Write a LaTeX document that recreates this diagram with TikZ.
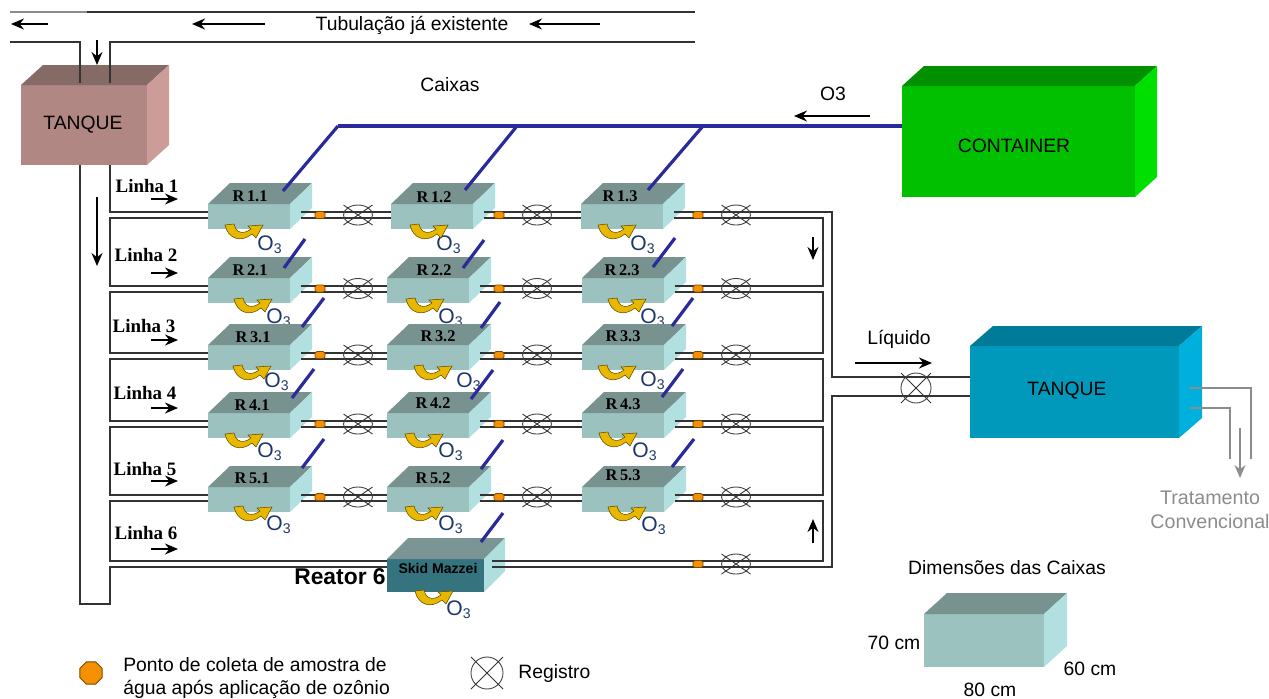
\documentclass[tikz,border=0pt]{standalone}
\usepackage{fontspec}
\setmainfont{Liberation Sans}
\newfontfamily\serifa{Liberation Serif}
\usepackage{xcolor}
\usetikzlibrary{arrows.meta,shapes.geometric,calc}
\definecolor{reatorF}{RGB}{156,194,192}
\definecolor{reatorT}{RGB}{120,146,144}
\definecolor{reatorS}{RGB}{178,224,224}
\definecolor{skidF}{RGB}{53,115,127}
\definecolor{skidT}{RGB}{122,149,147}
\definecolor{skidS}{RGB}{174,222,221}
\definecolor{tanqueF}{RGB}{176,135,130}
\definecolor{tanqueT}{RGB}{134,106,102}
\definecolor{tanqueS}{RGB}{204,156,152}
\definecolor{tanquebF}{RGB}{0,153,187}
\definecolor{tanquebT}{RGB}{0,122,153}
\definecolor{tanquebS}{RGB}{0,176,220}
\definecolor{contF}{RGB}{0,192,0}
\definecolor{contT}{RGB}{0,144,0}
\definecolor{contS}{RGB}{0,224,0}
\definecolor{ozblue}{RGB}{42,42,155}
\definecolor{ozgold}{RGB}{232,184,0}
\definecolor{ozorange}{RGB}{245,145,0}
\definecolor{ozlabel}{RGB}{30,55,105}
\definecolor{cinzaT}{RGB}{140,140,140}
\def\ux{0.02cm}
\tikzset{
  tubo/.style={line width=0.8pt, draw=black!80},
  tubocinza/.style={line width=0.7pt, draw=cinzaT},
  ozline/.style={line width=3.2*\ux, draw=ozblue},
  seta/.style={-{Stealth[length=13*\ux, width=11*\ux]}, line width=1.6*\ux, black},
  setacinza/.style={-{Stealth[length=13*\ux, width=11*\ux]}, line width=1.6*\ux, cinzaT},
  valvula/.style={ellipse, draw=black!75, line width=0.5pt, inner sep=0pt},
  valvulax/.style={line width=0.5pt, draw=black!80},
  coleta/.style={rectangle, rounded corners=1pt, draw=black!50!ozorange, line width=0.4pt, fill=ozorange,
                 minimum width=10*\ux, minimum height=7*\ux, inner sep=0pt},
  rotulo/.style={font=\fontsize{11}{13}\selectfont, align=center, inner sep=0pt},
  linha/.style={font=\fontsize{10.8}{12}\serifa\bfseries, inner sep=0pt},
  rnome/.style={font=\fontsize{9.3}{10}\serifa\bfseries, inner sep=0pt},
  otres/.style={font=\fontsize{12}{13}\selectfont, text=ozlabel, inner sep=0pt},
  curva/.pic={
    \filldraw[fill=ozgold, draw=black!60!ozgold, line width=0.3pt] (0,1) .. controls (3,15) and (16,19) .. (27,10)
      -- (31,14) -- (38,1) -- (23,2) -- (26,5) .. controls (18,11) and (11,9) .. (9,0) -- cycle;
  },
}
% caixa: nome, x, y do topo de tras, largura, altura, dx, dy, prefixo da cor
\newcommand{\caixa}[8]{%
  \node[anchor=north west, inner sep=0pt, outer sep=0pt, fill=#8F,
        minimum width=#4*\ux, minimum height=#5*\ux] (#1) at (#2,#3+#7) {};
  \fill[#8T] (#1.north west) -- ++(#6,-#7) -- ([shift={(#6,-#7)}]#1.north east) -- (#1.north east) -- cycle;
  \fill[#8S] (#1.north east) -- ([shift={(#6,-#7)}]#1.north east) -- ([shift={(#6,-#7)}]#1.south east) -- (#1.south east) -- cycle;
}
% registro: nome, x, y, raio x, raio y
\newcommand{\registro}[5]{%
  \node[valvula, minimum width=2*#4*\ux, minimum height=2*#5*\ux] (#1) at (#2,#3) {};
  \draw[valvulax] ([shift={(-#4,-#5)}]#1.center) -- ([shift={(#4,#5)}]#1.center);
  \draw[valvulax] ([shift={(-#4,#5)}]#1.center) -- ([shift={(#4,-#5)}]#1.center);
}
\begin{document}
\begin{tikzpicture}[x=\ux, y=-\ux]
\useasboundingbox (0,0) rectangle (1269,698);

% ---- ozone labels, partly covered by the next row ----
\foreach \n/\ox/\oy in {11/270/245, 12/449/245, 13/643/245, 21/279/318, 22/451/318, 23/653/318,
                        31/277/382, 32/469/382, 33/653/381, 41/270/452, 42/451/452, 43/645/452,
                        51/279/525, 52/451/525, 53/654/526, 61/459/610}
  \node[otres] (otres\n) at (\ox,\oy) {O\textsubscript{3}};

% ---- Boxes ----
\caixa{tanquea}{21}{65}{126}{80}{22}{20}{tanque}
\caixa{tanqueb}{970}{326}{209}{92}{23}{20}{tanqueb}
\caixa{container}{902}{66}{233}{111}{22}{20}{cont}
\caixa{amostra}{924}{593}{120}{53}{23}{21}{reator}
\foreach \r/\c/\rx/\ry/\lx/\ly in {
  1/1/208/183/250/196, 1/2/391/183/434/197, 1/3/581/183/620/196,
  2/1/208/257/250/270, 2/2/387/257/434/270, 2/3/582/257/622/270,
  3/1/208/324/253/337, 3/2/387/324/438/336, 3/3/582/324/623/336,
  4/1/208/392/252/405, 4/2/387/392/433/403, 4/3/582/392/623/404,
  5/1/208/466/252/478, 5/2/387/466/433/478, 5/3/582/466/623/475}{
  \caixa{r\r\c}{\rx}{\ry}{82}{25}{22}{21}{reator}
  \node[rnome] (nome\r\c) at (\lx,\ly) {R\,\r.\c};
}
\caixa{r61}{387}{538}{97}{33}{21}{21}{skid}
\node[font=\fontsize{8}{9}\selectfont\bfseries, inner sep=0pt] (nome61) at (438,568) {Skid Mazzei};

% ---- Pipe ends ----
\foreach \n in {11,12,13,21,22,23,31,32,33,41,42,43,51,52,53}{
  \coordinate (ia\n) at ([shift={(0,-4.5)}]r\n.west);
  \coordinate (ib\n) at ([shift={(0,1.5)}]r\n.west);
  \coordinate (oa\n) at ([shift={(11,-4.5)}]r\n.east);
  \coordinate (ob\n) at ([shift={(11,1.5)}]r\n.east);
}
\coordinate (ia61) at ([shift={(0,-14.5)}]r61.west);
\coordinate (ib61) at ([shift={(0,-8.5)}]r61.west);
\coordinate (oa61) at ([shift={(8,-14.5)}]r61.east);
\coordinate (ob61) at ([shift={(8,-8.5)}]r61.east);
\coordinate (wo) at (80,0);
\coordinate (wl) at (110,0);
\coordinate (wi) at (823,0);
\coordinate (we) at (832,0);
\coordinate (fundo) at (0,604);
\coordinate (ent) at (0,83);
\coordinate (ta) at ([shift={(0,-15)}]tanqueb.west);
\coordinate (tb) at ([shift={(0,4)}]tanqueb.west);
\coordinate (tl1) at (10,12);
\coordinate (tm1) at (87,12);
\coordinate (tr1) at (695,12);
\coordinate (tl2) at (10,42);
\coordinate (tr2) at (695,42);

% ---- Pipes ----
\draw[tubocinza] (tl1) -- (tm1);
\draw[tubo] (tm1) -- (tr1);
\draw[tubo] (tl2) -- (tl2 -| wo) -- (ent -| wo);
\draw[tubo] (tr2) -- (tr2 -| wl) -- (ent -| wl);
\draw[tubo] (ia11) -- (ia11 -| wl) -- (tanquea.south -| wl);
\draw[tubo] (ib61) -- (ib61 -| wl) -- (fundo -| wl) -- (fundo -| wo) -- (tanquea.south -| wo);
\foreach \r/\s/\t in {1/2/3,2/3/3,3/4/3,4/5/3,5/6/1}{
  \draw[tubo] (ib\r1) -- (ib\r1 -| wl) -- (ia\s1 -| wl) -- (ia\s1);
  \draw[tubo] (ob\r3) -- (ob\r3 -| wi) -- (oa\s\t -| wi) -- (oa\s\t);
}
\foreach \r in {1,2,3,4,5}{
  \foreach \c/\d in {1/2,2/3}{
    \draw[tubo] (oa\r\c) -- (ia\r\d);
    \draw[tubo] (ob\r\c) -- (ib\r\d);
  }
}
\draw[tubo] (oa13) -- (oa13 -| we) -- (ta -| we) -- (ta);
\draw[tubo] (tb) -- (tb -| we) -- (ob61 -| we) -- (ob61);

% ---- Ozone lines ----
\foreach \n/\xa/\ya/\ox/\oy in {
  11/338/126/-7/-13, 12/517/126/-8/-14, 13/703/126/-15/-14,
  21/305/239/-6/-10, 22/484/240/-6/-10, 23/675/238/-11/-11,
  31/324/298/12/-18, 32/500/302/12/-17, 33/693/298/8/-19,
  41/314/369/2/-15, 42/493/370/2/-14, 43/683/369/-2/-16,
  51/324/439/12/-19, 52/503/440/12/-18, 53/694/439/8/-20,
  61/503/513/-3/-17}{
  \coordinate (oz\n) at (\xa,\ya);
  \draw[ozline] (oz\n) -- ([shift={(\ox,\oy)}]r\n.north east);
}
\draw[ozline] (oz13 -| container.west) -- (oz11);

% ---- Yellow recirculation arrows ----
\foreach \ax/\ay in {225/224, 410/224, 598/224, 234/298, 406/298, 608/298, 233/365, 414/365, 598/365,
                     225/433, 405/433, 599/432, 234/506, 405/506, 608/506, 415/590}
  \pic at (\ax,\ay) {curva};

% ---- Sampling points and valves ----
\foreach \r/\y in {1/215, 2/288.5, 3/355, 4/424, 5/497}{
  \foreach \c/\px/\vx in {1/320/358, 2/499/537, 3/698/736}{
    \node[coleta] (ponto\r\c) at (\px,\y) {};
    \registro{reg\r\c}{\vx}{\y}{14.5}{10}
  }
}
\node[coleta] (ponto63) at (698,564) {};
\registro{reg63}{736}{564}{14.5}{10}
\registro{regliq}{916}{388}{15}{15}
\registro{regleg}{487}{673}{16}{16}
\node[regular polygon, regular polygon sides=8, draw=black!50!ozorange, fill=ozorange, line width=0.5pt,
      minimum size=24*\ux, inner sep=0pt] (pontoleg) at (91,673) {};

% ---- Flow arrows ----
\foreach \n/\xa/\ya/\xb/\yb in {
  a/48/24/11/24, b/265/24/192/24, c/600/24/529/24, d/97/40/97/65, e/97/197/97/266,
  f/151/199/178/199, g/151/273/178/273, h/151/340/178/340, i/151/408/178/408, j/151/481/178/481, k/151/549/178/549,
  l/870/116/794/116, m/813/237/813/260, n/813/543/813/519, o/855/363/932/363}{
  \coordinate (sa\n) at (\xa,\ya);
  \coordinate (sb\n) at (\xb,\yb);
  \draw[seta] (sa\n) -- (sb\n);
}

% ---- Conventional treatment outlet ----
\coordinate (gc1) at (1189,388);
\coordinate (gc2) at (1251,459);
\coordinate (gc3) at (1190,408);
\coordinate (gc4) at (1230,459);
\coordinate (gc5) at (1240,428);
\coordinate (gc6) at (1240,478);
\draw[tubocinza] (gc1) -| (gc2);
\draw[tubocinza] (gc3) -| (gc4);
\draw[setacinza] (gc5) -- (gc6);

% ---- Labels ----
\foreach \n/\lx/\ly in {1/147/186, 2/146/255, 3/144/326, 4/145/393, 5/145/469, 6/146/533}
  \node[linha] (linha\n) at (\lx,\ly) {Linha \n};
\node[rotulo] (tubtxt) at (412,25) {Tubulação já existente};
\node[rotulo] (caixastxt) at (450,85) {Caixas};
\node[rotulo] (tanqueatxt) at (83,125) {TANQUE};
\node[rotulo] (o3txt) at (833,94) {O3};
\node[rotulo] (conttxt) at (1014,146) {CONTAINER};
\node[rotulo] (liqtxt) at (899,339) {Líquido};
\node[rotulo] (tanquebtxt) at (1067,391) {TANQUE};
\node[rotulo, text=cinzaT, font=\fontsize{11.2}{13.6}\selectfont] (trattxt) at (1210,510) {Tratamento\\Convencional};
\node[rotulo] (dimtxt) at (1007,568) {Dimensões das Caixas};
\node[rotulo] (d70) at (894,643) {70 cm};
\node[rotulo] (d60) at (1090,669) {60 cm};
\node[rotulo] (d80) at (990,690) {80 cm};
\node[font=\fontsize{13}{15}\selectfont\bfseries, inner sep=0pt] (reator6) at (340,577) {Reator 6};
\node[rotulo, anchor=west, align=left] (legponto) at (123,678) {Ponto de coleta de amostra de\\água após aplicação de ozônio};
\node[rotulo, anchor=west] (legreg) at (518,673) {Registro};
\end{tikzpicture}
\end{document}
